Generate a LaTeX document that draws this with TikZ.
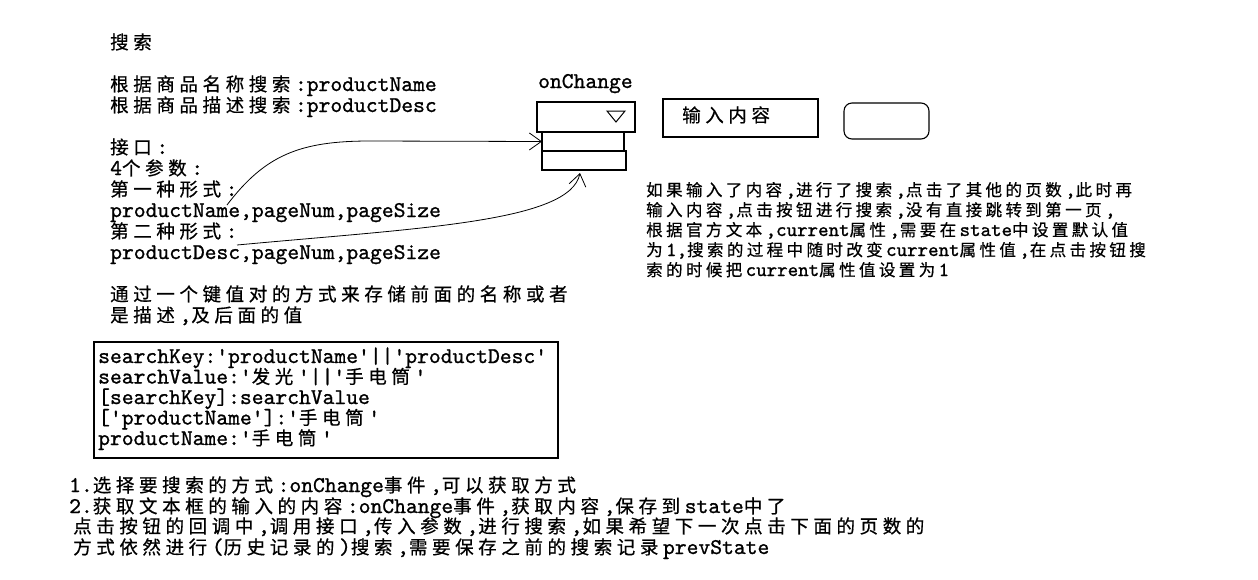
\documentclass[tikz,border=0pt]{standalone}
\usepackage{fontspec}
\setmainfont{lmmono10-regular.otf}[Ligatures=TeXOff, FakeBold=1]
\newfontfamily\cjkfam{Noto Sans CJK SC}[FakeBold=0.6]
\usetikzlibrary{arrows.meta}
\newlength\cjkw
\def\cjksz{18.5}
\makeatletter
\newcommand\CJ[1]{{\cjkfam\fontsize{\cjksz}{\cjksz}\selectfont\@tfor\@ch:=#1\do{\makebox[\cjkw][l]{\@ch}}}}
\makeatother
\tikzset{
  ltxt/.style={anchor=base west, inner sep=0pt, font=\fontsize{22.5}{21}\selectfont\setlength\cjkw{23.1pt}\def\cjksz{18.5}},
  rtxt/.style={anchor=base west, inner sep=0pt, font=\fontsize{20}{20}\selectfont\setlength\cjkw{19.9pt}\def\cjksz{16.5}},
  box/.style={draw, line width=1.1pt, inner sep=0pt, outer sep=0pt, anchor=north west},
  conn/.style={line width=0.8pt, -{Straight Barb[length=12pt,width=17pt]}}
}
\begin{document}
\begin{tikzpicture}[x=1pt,y=-1pt]
\useasboundingbox (0,0) rectangle (1258,579);
\fill[white] (0,0) rectangle (1258,579);
% left block
\node[ltxt] (t1) at (110,49) {\CJ{搜索}};
\node[ltxt] (t2) at (110,91) {\CJ{根据商品名称搜索}:productName};
\node[ltxt] (t3) at (110,112) {\CJ{根据商品描述搜索}:productDesc};
\node[ltxt] (t4) at (110,154) {\CJ{接口}:};
\node[ltxt] (t5) at (110,175) {4\CJ{个参数}:};
\node[ltxt] (t6) at (110,196) {\CJ{第一种形式}:};
\node[ltxt] (t7) at (110,217) {productName,pageNum,pageSize};
\node[ltxt] (t8) at (110,238) {\CJ{第二种形式}:};
\node[ltxt] (t9) at (110,259) {productDesc,pageNum,pageSize};
\node[ltxt] (t10) at (110,301) {\CJ{通过一个键值对的方式来存储前面的名称或者}};
\node[ltxt] (t11) at (110,322) {\CJ{是描述},\CJ{及后面的值}};
% key value box
\node[box, minimum width=464pt, minimum height=116pt] (kv) at (94,342) {};
\node[ltxt] (k1) at (98,363) {searchKey:'productName'||'productDesc'};
\node[ltxt] (k2) at (98,383.5) {searchValue:'\CJ{发光}'||'\CJ{手电筒}'};
\node[ltxt] (k3) at (98,404) {[searchKey]:searchValue};
\node[ltxt] (k4) at (98,424.5) {['productName']:'\CJ{手电筒}'};
\node[ltxt] (k5) at (98,445) {productName:'\CJ{手电筒}'};
% bottom block
\node[ltxt] (b1) at (69,492) {1.\CJ{选择要搜索的方式}:onChange\CJ{事件},\CJ{可以获取方式}};
\node[ltxt] (b2) at (69,513) {2.\CJ{获取文本框的输入的内容}:onChange\CJ{事件},\CJ{获取内容},\CJ{保存到}state\CJ{中了}};
\node[ltxt] (b3) at (73,533) {\CJ{点击按钮的回调中},\CJ{调用接口},\CJ{传入参数},\CJ{进行搜索},\CJ{如果希望下一次点击下面的页数的}};
\node[ltxt] (b4) at (73,554) {\CJ{方式依然进行}(\CJ{历史记录的})\CJ{搜索},\CJ{需要保存之前的搜索记录}prevState};
% widgets
\node[ltxt] (oc) at (538,88) {onChange};
\node[box, minimum width=98pt, minimum height=30pt] (box1) at (537,102) {};
\node[box, minimum width=82pt, minimum height=19pt] (box2) at (542,132) {};
\node[box, minimum width=84pt, minimum height=19pt] (box3) at (542,151) {};
\draw[line width=1pt] (607,111) -- (625,111) -- (616,122) -- cycle;
\node[box, minimum width=155pt, minimum height=38pt] (inp) at (663,99) {};
\node[ltxt] (inpt) at (682,122) {\CJ{输入内容}};
\node[box, minimum width=85pt, minimum height=36pt, rounded corners=8pt] (btn) at (844,103) {};
% right block
\node[rtxt] (r1) at (646,196) {\CJ{如果输入了内容},\CJ{进行了搜索},\CJ{点击了其他的页数},\CJ{此时再}};
\node[rtxt] (r2) at (646,216) {\CJ{输入内容},\CJ{点击按钮进行搜索},\CJ{没有直接跳转到第一页},};
\node[rtxt] (r3) at (646,236) {\CJ{根据官方文本},current\CJ{属性},\CJ{需要在}state\CJ{中设置默认值}};
\node[rtxt] (r4) at (646,256) {\CJ{为}1,\CJ{搜索的过程中随时改变}current\CJ{属性值},\CJ{在点击按钮搜}};
\node[rtxt] (r5) at (646,276) {\CJ{索的时候把}current\CJ{属性值设置为}1};
% connectors
\coordinate (c1) at (227,205);
\coordinate (c2) at (237,245);
\draw[conn] (c1) .. controls (265,155) and (300,141) .. (370,141) -- (box2.west);
\draw[conn] (c2) .. controls (420,228) and (570,222) .. ([xshift=-4pt,yshift=-3pt]box3.south);
\end{tikzpicture}
\end{document}
